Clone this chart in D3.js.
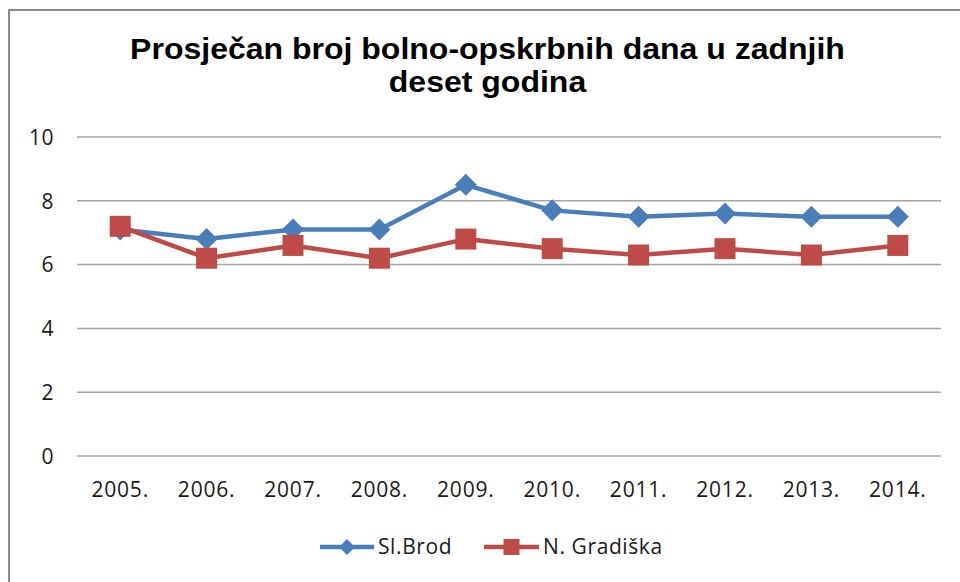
<!DOCTYPE html>
<html>
<head>
<meta charset="utf-8">
<script src="https://cdn.jsdelivr.net/npm/d3@7"></script>
<style>
  body { margin: 0; background: #fff; }
  svg { display: block; }
</style>
</head>
<body>
<svg id="chart" width="960" height="582"></svg>
<script>
// podaci
const years = ['2005.', '2006.', '2007.', '2008.', '2009.', '2010.', '2011.', '2012.', '2013.', '2014.'];
const slBrod = [7.1, 6.8, 7.1, 7.1, 8.5, 7.7, 7.5, 7.6, 7.5, 7.5];
const nGradiska = [7.2, 6.2, 6.6, 6.2, 6.8, 6.5, 6.3, 6.5, 6.3, 6.6];
const yTicks = [0, 2, 4, 6, 8, 10];
const titleLines = ['Prosječan broj bolno-opskrbnih dana u zadnjih', 'deset godina'];

const series = [
  {name: 'Sl.Brod', values: slBrod, color: '#4a7ebb', marker: 'diamond'},
  {name: 'N. Gradiška', values: nGradiska, color: '#be4b48', marker: 'square'}
];

const svg = d3.select('#chart');
const labelFont = '"Open Sans", sans-serif';

// okvir
svg.append('path')
  .attr('d', 'M9,582 L9,10 L962,10')
  .attr('fill', 'none')
  .attr('stroke', '#8a8a8a')
  .attr('stroke-width', 2);

// naslov
const titleG = svg.append('g');
const titleText = titleG.selectAll('text')
  .data(titleLines)
  .enter().append('text')
  .attr('x', 0)
  .attr('y', (d, i) => 59 + i * 33)
  .attr('text-anchor', 'middle')
  .style('font-family', '"Liberation Sans", Arial, sans-serif')
  .style('font-weight', 'bold')
  .style('font-size', '30px')
  .style('fill', '#000')
  .text(d => d);
const natural = titleText.node().getComputedTextLength();
const sx = 715 / natural;
titleG.attr('transform', `translate(487.5,0) scale(${sx},1)`);

const x = d3.scaleBand().domain(years).range([77, 941]);
const y = d3.scaleLinear().domain([0, 10]).range([456, 137]);

// mreža
svg.append('g')
  .selectAll('line')
  .data(yTicks)
  .enter().append('line')
  .attr('x1', 77)
  .attr('x2', 941)
  .attr('y1', d => y(d))
  .attr('y2', d => y(d))
  .attr('stroke', '#a6a6a6')
  .attr('stroke-width', 1.5);

// y os
const yAxis = svg.append('g')
  .attr('transform', 'translate(54,0)')
  .call(d3.axisLeft(y).tickValues(yTicks).tickSize(0).tickPadding(0));
yAxis.select('.domain').remove();
yAxis.selectAll('text')
  .style('font-family', labelFont)
  .style('font-size', '21px')
  .style('letter-spacing', '0.5px')
  .style('fill', '#1a1a1a')
  .attr('dy', '0.35em');

// x os
const xAxis = svg.append('g')
  .attr('transform', 'translate(0,477)')
  .call(d3.axisBottom(x).tickSize(0).tickPadding(0));
xAxis.select('.domain').remove();
xAxis.selectAll('text')
  .style('font-family', labelFont)
  .style('font-size', '21px')
  .style('letter-spacing', '0.8px')
  .style('fill', '#1a1a1a')
  .attr('dy', '0.95em');

const cx = d => x(d) + x.bandwidth() / 2;

const diamond = s => `M0,${-s} L${s},0 L0,${s} L${-s},0 Z`;
const square = s => `M${-s},${-s} H${s} V${s} H${-s} Z`;

series.forEach(sr => {
  const pts = years.map((yr, i) => [cx(yr), y(sr.values[i])]);
  const g = svg.append('g');
  g.append('path')
    .attr('d', d3.line()(pts))
    .attr('fill', 'none')
    .attr('stroke', sr.color)
    .attr('stroke-width', 4.5)
    .attr('stroke-linejoin', 'round');
  g.selectAll('path.m')
    .data(pts)
    .enter().append('path')
    .attr('class', 'm')
    .attr('transform', d => `translate(${d[0]},${d[1]})`)
    .attr('d', sr.marker === 'diamond' ? diamond(11) : square(10.5))
    .attr('fill', sr.color);
});

// legenda
const legend = [
  {x0: 320, x1: 374, tx: 378},
  {x0: 484, x1: 539, tx: 543}
];
series.forEach((sr, i) => {
  const l = legend[i];
  const g = svg.append('g');
  const ly = 547;
  g.append('line')
    .attr('x1', l.x0).attr('x2', l.x1)
    .attr('y1', ly).attr('y2', ly)
    .attr('stroke', sr.color)
    .attr('stroke-width', 4.5);
  g.append('path')
    .attr('transform', `translate(${(l.x0 + l.x1) / 2},${ly})`)
    .attr('d', sr.marker === 'diamond' ? diamond(8) : square(8))
    .attr('fill', sr.color);
  g.append('text')
    .attr('x', l.tx)
    .attr('y', ly)
    .attr('dy', '0.35em')
    .style('font-family', labelFont)
    .style('font-size', '21px')
    .style('letter-spacing', '0.6px')
    .style('fill', '#1a1a1a')
    .text(sr.name);
});
</script>
</body>
</html>
